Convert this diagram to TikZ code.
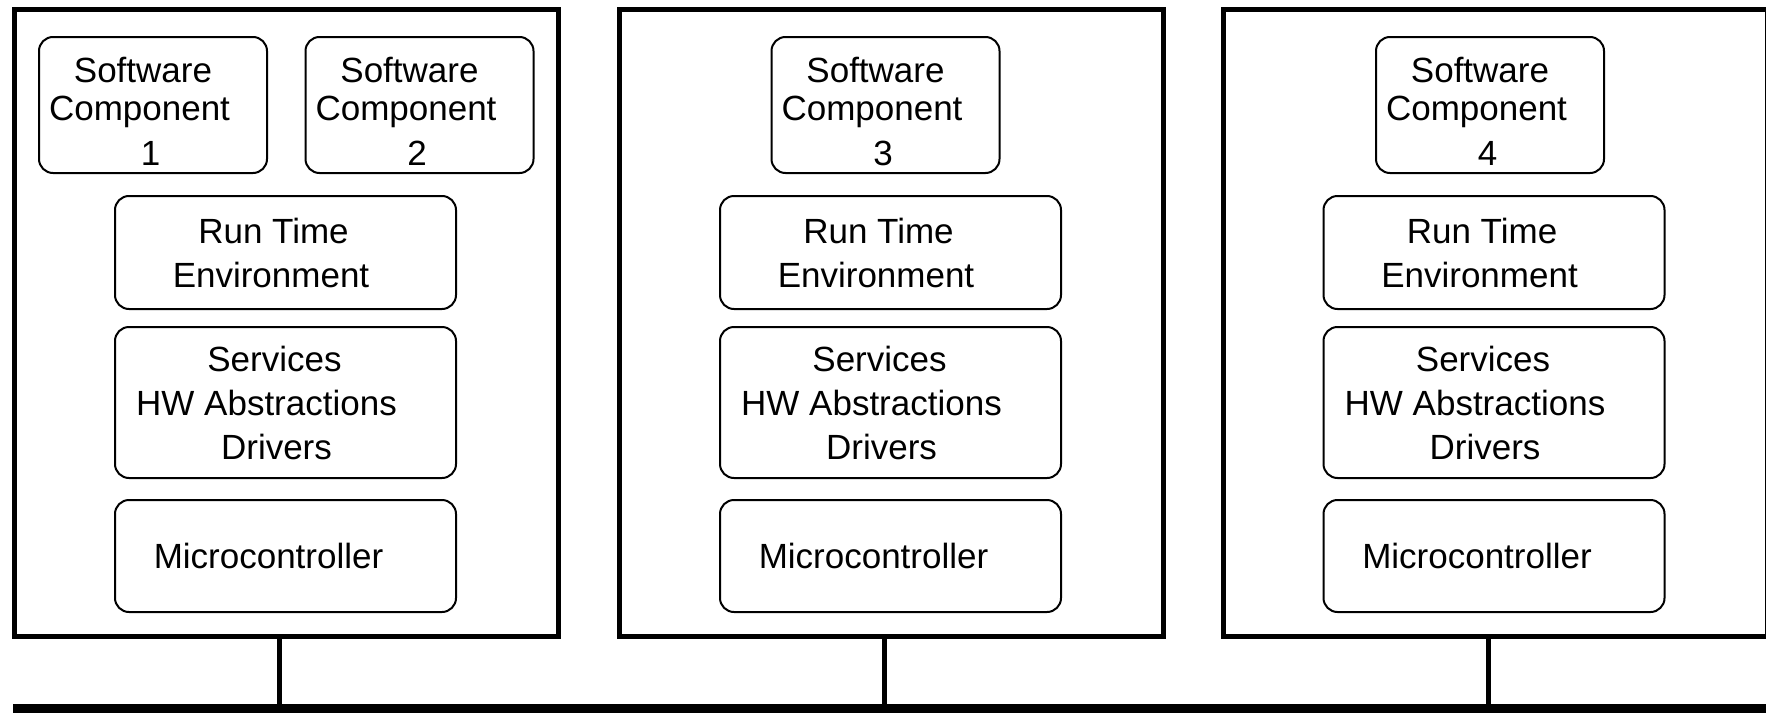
\documentclass[tikz,border=0pt]{standalone}
\usepackage{fontspec}
\setmainfont{Liberation Sans}
\usepackage{tikz}
\usetikzlibrary{positioning}

\newcommand{\pad}[1]{\rule{#1}{0pt}}

\begin{document}
\begin{tikzpicture}
[x=0.5pt,y=-0.5pt]
\tikzset{
	ecu/.style = {draw, line width=2.5pt, minimum width=272pt, minimum height=313.5pt, inner sep=0},
	layer/.style = {draw, line width=1pt, rounded corners=7pt, align=center, inner sep=0,
		font=\fontsize{17.5}{22}\selectfont, minimum width=170.5pt},
	swc/.style = {layer, font=\fontsize{17.5}{19}\selectfont, minimum width=114pt, minimum height=68pt},
	bus/.style = {line width=5.5pt},
	link/.style = {line width=2.5pt}
}
\useasboundingbox (0,0) rectangle (1766,712);

\coordinate (busw) at (13,709);
\coordinate (buse) at (1772,709);

\foreach \i/\dx in {1/0,2/605,3/1208.5}{
	\begin{scope}[shift={(\dx,0)}]
		\node[ecu] (ecu\i) at (286.5,323) {};
		\node[layer, minimum height=56.5pt] (rte\i) at (285.5,252.5)
			{Run Time\pad{12pt}\\Environment\pad{14.5pt}};
		\node[layer, minimum height=75.5pt] (bsw\i) at (285.5,402.5)
			{Services\pad{11pt}\\HW Abstractions\pad{19pt}\\Drivers\pad{9pt}};
		\node[layer, minimum height=56pt] (mcu\i) at (285.5,556)
			{Microcontroller\pad{17pt}};
	\end{scope}
	\draw [link] ([xshift=-3.5pt]ecu\i.south) -- ([xshift=-3.5pt]ecu\i.south |- busw);
}

\node[swc] (swc1) at (153,105) {\rule{0pt}{19pt}Software\pad{10pt}\\Component\pad{13.5pt}\\[3.8pt]1\pad{2.5pt}};
\node[swc] (swc2) at (419.5,105) {\rule{0pt}{19pt}Software\pad{10pt}\\Component\pad{13.5pt}\\[3.8pt]2\pad{2.5pt}};
\node[swc] (swc3) at (885.5,105) {\rule{0pt}{19pt}Software\pad{10pt}\\Component\pad{13.5pt}\\[3.8pt]3\pad{2.5pt}};
\node[swc] (swc4) at (1490,105) {\rule{0pt}{19pt}Software\pad{10pt}\\Component\pad{13.5pt}\\[3.8pt]4\pad{2.5pt}};

\draw [bus] (busw) -- (buse);

\end{tikzpicture}
\end{document}
